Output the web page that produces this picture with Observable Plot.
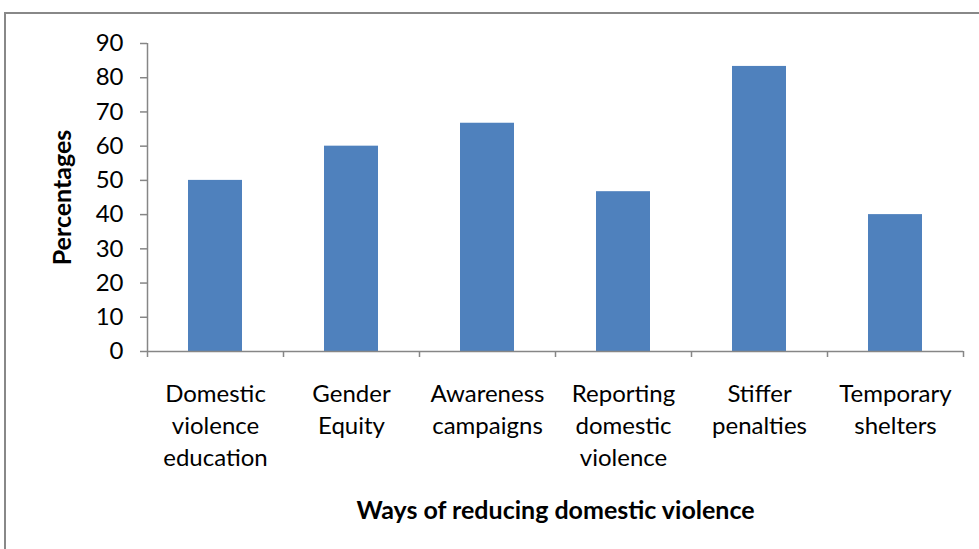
<!DOCTYPE html>
<html>
<head>
<meta charset="utf-8">
<script src="https://cdn.jsdelivr.net/npm/d3@7"></script>
<script src="https://cdn.jsdelivr.net/npm/@observablehq/plot@0.6"></script>
<style>
  html, body { margin: 0; padding: 0; background: #fff; overflow: hidden; }
  #wrap { position: relative; width: 979px; height: 549px; overflow: hidden; }
  #border { position: absolute; left: 4px; top: 12px; width: 1100px; height: 700px;
            border: 2px solid #888; box-sizing: border-box; pointer-events: none; }
  #chart { position: absolute; left: 0; top: 0; }
</style>
</head>
<body>
<div id="wrap">
  <div id="border"></div>
  <div id="chart"></div>
</div>
<script>
// Survey responses: ways of reducing domestic violence (percent of respondents)
const categories = [
  "Domestic violence education",
  "Gender Equity",
  "Awareness campaigns",
  "Reporting domestic violence",
  "Stiffer penalties",
  "Temporary shelters"
];
const tickLabels = [
  "Domestic\nviolence\neducation",
  "Gender\nEquity",
  "Awareness\ncampaigns",
  "Reporting\ndomestic\nviolence",
  "Stiffer\npenalties",
  "Temporary\nshelters"
];
const percentages = [50, 60, 66.7, 46.7, 83.3, 40];
const yTicks = [0, 10, 20, 30, 40, 50, 60, 70, 80, 90];

const data = categories.map((c, i) => ({category: c, value: percentages[i]}));
const labelOf = new Map(categories.map((c, i) => [c, tickLabels[i]]));

const W = 979, H = 549;
const mL = 147, mR = 16, mT = 43, mB = 198;
const half = (W - mL - mR) / categories.length / 2;
const axisGrey = "#868686";
const font = "Lato, 'Open Sans', sans-serif";

const chart = Plot.plot({
  width: W,
  height: H,
  marginLeft: mL,
  marginRight: mR,
  marginTop: mT,
  marginBottom: mB,
  style: {fontFamily: font, color: "#000", background: "transparent", overflow: "visible"},
  x: {domain: categories, paddingInner: 0.6, paddingOuter: 0.3, axis: null},
  y: {domain: [0, 90], axis: null},
  marks: [
    Plot.barY(data, {x: "category", y: "value", fill: "#4F81BD"}),
    // category boundary ticks below the baseline
    Plot.axisX({ticks: categories, tickSize: 6, text: null, label: null, stroke: axisGrey, strokeWidth: 1.5, dx: -half}),
    Plot.axisX({ticks: [categories[categories.length - 1]], tickSize: 6, text: null, label: null, stroke: axisGrey, strokeWidth: 1.5, dx: half}),
    // category labels
    Plot.axisX({
      ticks: categories,
      tickSize: 0,
      tickPadding: 28,
      tickFormat: d => labelOf.get(d),
      fontSize: 24,
      lineHeight: 1.33,
      label: null,
      fill: "#000"
    }),
    // value axis
    Plot.axisY({
      ticks: yTicks,
      tickSize: 7,
      tickPadding: 17,
      fontSize: 24,
      stroke: axisGrey,
      strokeWidth: 1.5,
      label: null,
      fill: "#000"
    }),
    Plot.ruleX([categories[0]], {dx: -half, stroke: axisGrey, strokeWidth: 1.5}),
    Plot.ruleY([0], {stroke: axisGrey, strokeWidth: 1.5}),
    // axis titles
    Plot.text(["Percentages"], {
      frameAnchor: "left", dx: -85, rotate: -90, textAnchor: "middle",
      fontSize: 25, fontWeight: "bold", fill: "#000"
    }),
    Plot.text(["Ways of reducing domestic violence"], {
      frameAnchor: "bottom", dy: 167,
      fontSize: 25, fontWeight: "bold", fill: "#000"
    })
  ]
});

document.getElementById("chart").appendChild(chart);
</script>
</body>
</html>
